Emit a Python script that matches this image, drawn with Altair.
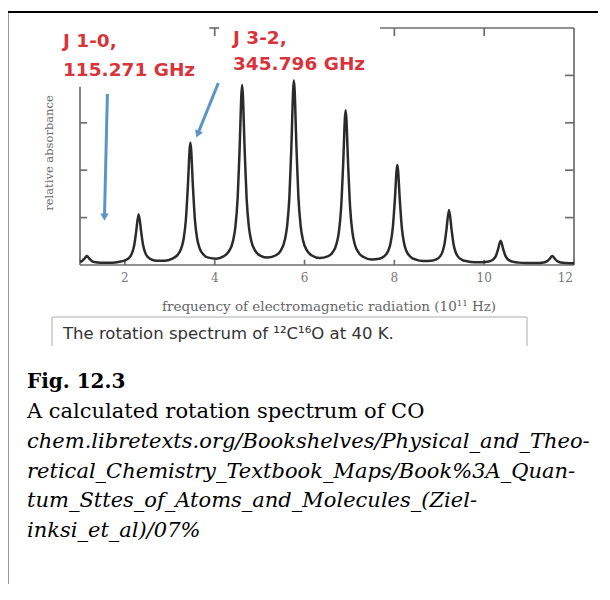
import altair as alt
import pandas as pd

# ---- spectrum (frequency in 10^11 Hz, relative absorbance) ----
freq = [1.000, 1.053, 1.093, 1.153, 1.213, 1.253, 1.303, 1.353, 1.453, 1.553, 1.730,
        1.906, 2.006, 2.106, 2.156, 2.206, 2.246, 2.306, 2.366, 2.406, 2.456, 2.506, 2.606, 2.706, 2.882,
        3.058, 3.158, 3.258, 3.308, 3.358, 3.398, 3.458, 3.518, 3.558, 3.608, 3.658, 3.758, 3.858, 4.034,
        4.210, 4.310, 4.410, 4.460, 4.510, 4.550, 4.610, 4.670, 4.710, 4.760, 4.810, 4.910, 5.010, 5.187,
        5.363, 5.463, 5.563, 5.613, 5.663, 5.703, 5.763, 5.823, 5.863, 5.913, 5.963, 6.063, 6.163, 6.339,
        6.515, 6.615, 6.715, 6.765, 6.815, 6.855, 6.915, 6.975, 7.015, 7.065, 7.115, 7.215, 7.315, 7.491,
        7.666, 7.766, 7.866, 7.916, 7.966, 8.006, 8.066, 8.126, 8.166, 8.216, 8.266, 8.366, 8.466, 8.642,
        8.817, 8.917, 9.017, 9.067, 9.117, 9.157, 9.217, 9.277, 9.317, 9.367, 9.417, 9.517, 9.617, 9.792,
        9.967, 10.067, 10.167, 10.217, 10.267, 10.307, 10.367, 10.427, 10.467, 10.517, 10.567, 10.667, 10.767, 10.942,
        11.116, 11.216, 11.316, 11.366, 11.416, 11.456, 11.516, 11.576, 11.616, 11.666, 11.716, 11.816, 11.916, 12.000]
absorbance = [0.063, 0.090, 0.128, 0.189, 0.129, 0.091, 0.067, 0.056, 0.047, 0.045, 0.050,
              0.072, 0.099, 0.166, 0.245, 0.411, 0.668, 1.071, 0.670, 0.415, 0.251, 0.173, 0.111, 0.090, 0.089,
              0.135, 0.197, 0.360, 0.554, 0.960, 1.592, 2.580, 1.594, 0.964, 0.560, 0.368, 0.211, 0.155, 0.134,
              0.191, 0.280, 0.519, 0.805, 1.403, 2.338, 3.797, 2.339, 1.405, 0.808, 0.523, 0.286, 0.200, 0.156,
              0.205, 0.293, 0.537, 0.830, 1.443, 2.402, 3.899, 2.401, 1.442, 0.828, 0.535, 0.291, 0.201, 0.147,
              0.181, 0.254, 0.456, 0.700, 1.213, 2.014, 3.265, 2.012, 1.210, 0.696, 0.450, 0.245, 0.168, 0.118,
              0.134, 0.179, 0.307, 0.464, 0.792, 1.306, 2.108, 1.305, 0.789, 0.459, 0.301, 0.168, 0.118, 0.083,
              0.089, 0.113, 0.182, 0.267, 0.445, 0.724, 1.161, 0.723, 0.443, 0.263, 0.177, 0.105, 0.078, 0.057,
              0.058, 0.067, 0.096, 0.132, 0.207, 0.326, 0.510, 0.325, 0.206, 0.130, 0.093, 0.062, 0.050, 0.041,
              0.040, 0.043, 0.052, 0.064, 0.089, 0.129, 0.190, 0.128, 0.089, 0.063, 0.051, 0.041, 0.037, 0.035]

x_tick_values = [2, 4, 6, 8, 10, 12]
x_tick_labels = ["2", "4", "6", "8", "10", "12"]
y_tick_values = [1, 2, 3, 4]

x_title = "frequency of electromagnetic radiation (10\u00b9\u00b9 Hz)"
y_title = "relative absorbance"
label_j10 = ["J 1-0,", "115.271 GHz"]
label_j32 = ["J 3-2,", "345.796 GHz"]
caption_box = "The rotation spectrum of \u00b9\u00b2C\u00b9\u2076O at 40 K."
fig_label = "Fig. 12.3"
fig_title = "A calculated rotation spectrum of CO"
fig_source = ["chem.libretexts.org/Bookshelves/Physical_and_Theo-",
              "retical_Chemistry_Textbook_Maps/Book%3A_Quan-",
              "tum_Sttes_of_Atoms_and_Molecules_(Ziel-",
              "inksi_et_al)/07%"]

# annotation arrows (data units)
arrow_x_from = [1.61, 4.08]
arrow_y_from = [3.61, 3.84]
arrow_x_to = [1.545, 3.62]
arrow_y_to = [1.01, 2.76]
arrow_angle = [1, 22]

# ---------------- layout ----------------
W, H = 494, 237
PAD_L, PAD_T, PAD_R, PAD_B = 72, 20, 24, 319
OX, OY = 8 + PAD_L, 8 + PAD_T  # page position of plot origin


def px(x):
    return x - OX


def py(y):
    return y - OY


xs = alt.Scale(domain=[1, 12], nice=False, zero=False)
ys = alt.Scale(domain=[0, 5], nice=False, zero=False)

AXIS_COL = "#6e6e6e"
RED = "#d7353b"
BLUE = "#5b95c6"

spec_df = pd.DataFrame({"freq": freq, "abs": absorbance})

curve = alt.Chart(spec_df).mark_line(
    color="#2b2b2b", strokeWidth=2.5, interpolate="monotone"
).encode(
    x=alt.X("freq:Q", scale=xs, axis=None),
    y=alt.Y("abs:Q", scale=ys, axis=None),
)

# frame and inward ticks (data units)
segs = [(1, 0, 12, 0), (1, 0, 1, 3.76), (12, 0, 12, 5), (7.68, 5, 12, 5), (3.88, 5, 4.1, 5)]
segs += [(t, 0, t, 0.11) for t in x_tick_values]
segs += [(t, 5, t, 4.83) for t in [4, 8, 10]]
segs += [(1, v, 1.16, v) for v in [1, 2, 3]]
segs += [(12, v, 11.8, v) for v in y_tick_values]
frame_df = pd.DataFrame(segs, columns=["x0", "y0", "x1", "y1"])
frame = alt.Chart(frame_df).mark_rule(color=AXIS_COL, strokeWidth=1.7).encode(
    x=alt.X("x0:Q", scale=xs, axis=None), y=alt.Y("y0:Q", scale=ys, axis=None),
    x2="x1:Q", y2="y1:Q")

# tick labels (last one flush right with the frame)
tick_df = pd.DataFrame({"t": x_tick_values, "lab": x_tick_labels})
tick_kw = dict(font="DejaVu Serif", fontSize=12, color="#777777", baseline="middle")
tick_mid = alt.Chart(tick_df.iloc[:-1]).mark_text(align="center", **tick_kw).encode(
    x=alt.X("t:Q", scale=xs, axis=None), y=alt.value(py(278)), text="lab:N")
tick_end = alt.Chart(tick_df.iloc[-1:]).mark_text(align="right", dx=-1, **tick_kw).encode(
    x=alt.X("t:Q", scale=xs, axis=None), y=alt.value(py(278)), text="lab:N")

arrow_df = pd.DataFrame({"xa": arrow_x_from, "ya": arrow_y_from, "xb": arrow_x_to,
                         "yb": arrow_y_to, "ang": arrow_angle})
arrow_lines = alt.Chart(arrow_df).mark_rule(color=BLUE, strokeWidth=3).encode(
    x=alt.X("xa:Q", scale=xs, axis=None), y=alt.Y("ya:Q", scale=ys, axis=None),
    x2="xb:Q", y2="yb:Q")
arrow_heads = alt.Chart(arrow_df).mark_point(
    shape="triangle-down", filled=True, color=BLUE, opacity=1, size=70
).encode(
    x=alt.X("xb:Q", scale=xs, axis=None), y=alt.Y("yb:Q", scale=ys, axis=None),
    angle=alt.Angle("ang:Q", scale=None))

one = pd.DataFrame({"k": [0]})


def txt(text, x, y, **kw):
    props = dict(align="left", baseline="alphabetic")
    props.update(kw)
    return alt.Chart(one).mark_text(text=text, **props).encode(
        x=alt.value(px(x)), y=alt.value(py(y)))


def hrule(x1, x2, y, color, width):
    return alt.Chart(one).mark_rule(color=color, strokeWidth=width).encode(
        x=alt.value(px(x1)), x2=alt.value(px(x2)), y=alt.value(py(y)))


def vrule(x, y1, y2, color, width):
    return alt.Chart(one).mark_rule(color=color, strokeWidth=width).encode(
        x=alt.value(px(x)), y=alt.value(py(y1)), y2=alt.value(py(y2)))


lab_kw = dict(font="DejaVu Sans", fontSize=18.5, fontWeight="bold", color=RED)
labels = [
    txt(label_j10[0], 63, 47, **lab_kw),
    txt(label_j10[1], 63, 76, **lab_kw),
    txt(label_j32[0], 233, 43.5, **lab_kw),
    txt(label_j32[1], 233, 70, **lab_kw),
]

titles = [
    txt(x_title, 329, 307, align="center", baseline="middle", font="DejaVu Serif",
        fontSize=13.5, color="#666666"),
    txt(y_title, 50, 153, align="center", baseline="middle", font="DejaVu Serif",
        fontSize=11.5, color="#6a6a6a", angle=270),
]

caption = [
    hrule(52, 527, 317, "#c8c8c8", 1.5),
    vrule(52, 317, 346, "#c8c8c8", 1.5),
    vrule(527, 317, 346, "#c8c8c8", 1.5),
    txt(caption_box, 63, 339, font="DejaVu Sans", fontSize=16.5, color="#333333"),
]

text_block = [
    txt(fig_label, 27, 388, font="DejaVu Serif", fontSize=20, fontWeight="bold", color="#000000"),
    txt(fig_title, 27, 418, font="DejaVu Serif", fontSize=21, color="#000000"),
    txt(fig_source, 27, 448, font="DejaVu Serif", fontSize=21, fontStyle="italic",
        color="#000000", lineHeight=29.7),
]

svg_w = PAD_L + W + PAD_R
svg_h = PAD_T + H + PAD_B
border = [
    vrule(7.5, 12, 8 + svg_h, "#000000", 1.8),
    hrule(7, 8 + svg_w, 12, "#000000", 1.8),
]

chart = alt.layer(
    frame, curve, tick_mid, tick_end, arrow_lines, arrow_heads,
    *labels, *titles, *caption, *text_block, *border
).properties(
    width=W, height=H,
    autosize=alt.AutoSizeParams(type="none"),
    padding={"left": PAD_L, "top": PAD_T, "right": PAD_R, "bottom": PAD_B},
).configure_view(stroke=None)

chart.save("out.html", embed_options={"renderer": "svg", "actions": False})
